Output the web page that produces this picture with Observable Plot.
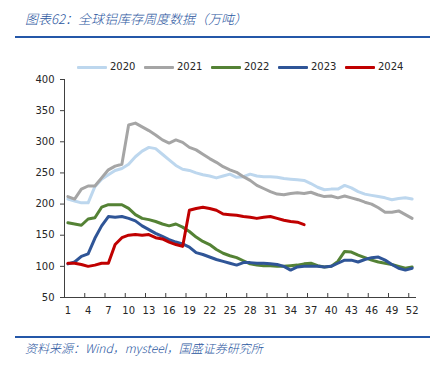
<!DOCTYPE html>
<html><head><meta charset="utf-8">
<script src="https://cdn.jsdelivr.net/npm/d3@7"></script>
<script src="https://cdn.jsdelivr.net/npm/@observablehq/plot@0.6"></script>
<style>
body{margin:0;background:#fff;}
#wrap{position:relative;width:443px;height:375px;overflow:hidden;font-family:"DejaVu Sans",sans-serif;}
#title{position:absolute;left:25px;top:10px;font:italic 300 13px "Noto Sans CJK SC",sans-serif;color:#2a56a0;line-height:18px;white-space:nowrap;}
#tline{position:absolute;left:15px;top:36px;width:415px;height:2px;background:#2457a8;}
#chart{position:absolute;left:0;top:40px;}
#legend{position:absolute;left:77px;top:60px;height:14px;white-space:nowrap;font:10px "DejaVu Sans",sans-serif;color:#262626;}
.item{display:inline-block;width:67px;line-height:14px;}
.sw{display:inline-block;width:30px;height:3px;vertical-align:middle;margin-right:3px;border-radius:1px;}
#fline{position:absolute;left:15px;top:336px;width:415px;height:2px;background:#2457a8;}
#source{position:absolute;left:25px;top:339px;font:italic 300 12px "Noto Sans CJK SC",sans-serif;color:#2a56a0;line-height:17px;white-space:nowrap;}
</style></head>
<body>
<div id="wrap">
  <div id="title">图表62：全球铝库存周度数据（万吨）</div>
  <div id="tline"></div>
  <div id="chart"></div>
  <div id="legend"></div>
  <div id="fline"></div>
  <div id="source">资料来源：Wind，mysteel，国盛证券研究所</div>
</div>
<script>
const weeks = [1,2,3,4,5,6,7,8,9,10,11,12,13,14,15,16,17,18,19,20,21,22,23,24,25,26,27,28,29,30,31,32,33,34,35,36,37,38,39,40,41,42,43,44,45,46,47,48,49,50,51,52];
const years = ["2020","2021","2022","2023","2024"];
const colors = ["#bdd7ee","#a5a5a5","#548235","#2f5597","#c00000"];
const xLabels = [1,4,7,10,13,16,19,22,25,28,31,34,37,40,43,46,49,52];
const yTicks = [50,100,150,200,250,300,350,400];

const v2020 = [208,205,202,202,228,240,247,254,257,264,276,285,291,289,280,271,262,256,254,250,247,245,242,245,248,243,244,248,245,244,244,243,241,240,239,238,233,227,223,224,224,230,226,220,216,214,212,210,207,209,210,208];
const v2021 = [212,208,224,229,229,242,255,261,264,327,330,324,318,311,303,298,303,299,291,287,280,273,267,260,255,251,244,238,230,225,220,216,215,217,218,217,219,215,212,213,210,213,210,207,203,200,194,187,187,189,183,177];
const v2022 = [170,168,166,176,178,195,199,199,199,193,183,177,175,172,168,165,168,163,156,147,140,135,127,121,117,114,109,104,102,101,101,100,100,101,102,104,105,101,99,100,108,124,123,118,114,110,107,105,103,100,97,99];
const v2023 = [104,107,116,120,145,165,180,179,180,177,173,165,159,153,148,143,139,136,131,122,119,115,111,108,105,102,106,106,105,105,104,103,100,94,99,100,100,100,99,100,105,110,110,107,111,114,115,110,103,97,94,97];
const v2024 = [105,105,103,100,102,105,105,135,146,150,151,150,151,146,144,139,135,132,190,193,195,193,190,184,183,182,180,179,177,179,180,177,174,172,171,167];

const series = [v2020, v2021, v2022, v2023, v2024];
const data = [];
series.forEach((vals, i) => vals.forEach((v, j) => data.push({year: years[i], week: weeks[j], value: v})));

const xTickMarks = [0.5,3.5,6.5,9.5,12.5,15.5,18.5,21.5,24.5,27.5,30.5,33.5,36.5,39.5,42.5,45.5,48.5,51.5];

const chart = Plot.plot({
  width: 443, height: 290,
  marginLeft: 64, marginRight: 28, marginTop: 39, marginBottom: 33,
  x: {domain: [0.5, 52.5]},
  y: {domain: [50, 400]},
  color: {domain: years, range: colors},
  style: {fontFamily: "DejaVu Sans, sans-serif", fontSize: "10px", color: "#262626", background: "transparent"},
  marks: [
    Plot.axisY({ticks: yTicks, tickSize: 4, tickPadding: 6, label: null, stroke: "#404040"}),
    Plot.axisX({ticks: xLabels, tickSize: 0, tickPadding: 9, label: null}),
    Plot.axisX({ticks: xTickMarks, tickSize: -4, tickFormat: () => "", label: null, stroke: "#404040"}),
    Plot.frame({anchor: "left", stroke: "#404040"}),
    Plot.frame({anchor: "bottom", stroke: "#404040"}),
    Plot.line(data, {x: "week", y: "value", z: "year", stroke: "year", strokeWidth: 3, strokeLinejoin: "round", strokeLinecap: "round"})
  ]
});
document.getElementById("chart").appendChild(chart);

const legend = document.getElementById("legend");
years.forEach((y, i) => {
  const it = document.createElement("span");
  it.className = "item";
  it.innerHTML = `<span class="sw" style="background:${colors[i]}"></span>${y}`;
  legend.appendChild(it);
});
</script>
</body></html>
